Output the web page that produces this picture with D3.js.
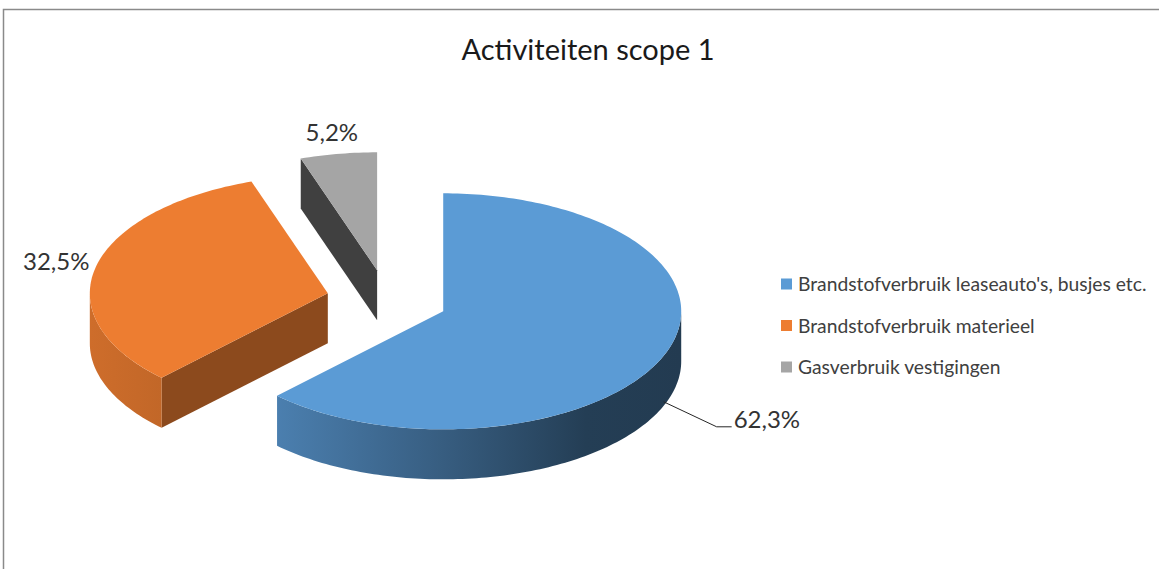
<!DOCTYPE html>
<html>
<head>
<meta charset="utf-8">
<style>
  body { margin: 0; background: #ffffff; }
  svg { display: block; font-family: Lato, "Open Sans", sans-serif; }
  .title { font-size: 29px; fill: #1a1a1a; }
  .label { font-size: 24px; fill: #333333; }
  .legend text { font-size: 19.3px; fill: #404040; }
</style>
</head>
<body>
<svg id="chart" width="1159" height="569"></svg>
<script src="https://cdn.jsdelivr.net/npm/d3@7"></script>
<script>
  // data
  var title = "Activiteiten scope 1";
  var categories = ["Brandstofverbruik leaseauto's, busjes etc.", "Brandstofverbruik materieel", "Gasverbruik vestigingen"];
  var values = [62.3, 32.5, 5.2];
  var colors = ["#5b9bd5", "#ed7d31", "#a5a5a5"];

  // 3d pie geometry
  var cx = 387, cy = 300, rx = 238, ry = 118, depth = 50, explode = 0.255;
  var labelRadius = 1.17;
  var leader = {index: 0, down: 0.92, dx: 53, dy: 25, run: 15};

  var nl = d3.formatLocale({decimal: ",", thousands: ".", grouping: [3], currency: ["", "€"]});
  var pct = nl.format(".1f");

  var svg = d3.select("#chart");
  var defs = svg.append("defs");

  svg.append("rect").attr("width", 1159).attr("height", 569).attr("fill", "#ffffff");
  // chart area border (only top and left visible)
  svg.append("path")
      .attr("d", "M3.5,569V9.5H1159")
      .attr("fill", "none")
      .attr("stroke", "#8a8a8a")
      .attr("stroke-width", 1.5);

  svg.append("text")
      .attr("class", "title")
      .attr("x", 588)
      .attr("y", 60)
      .attr("text-anchor", "middle")
      .text(title);

  var slices = d3.pie().sort(null).value(function(d){ return d.value; })(
    values.map(function(v, i){ return {name: categories[i], value: v, color: colors[i]}; })
  );

  slices.forEach(function(d){
    d.mid = (d.startAngle + d.endAngle) / 2;
    d.ox = cx + explode * rx * Math.sin(d.mid);
    d.oy = cy - explode * ry * Math.cos(d.mid);
  });

  function pt(d, a, dz) {
    return [d.ox + rx * Math.sin(a), d.oy - ry * Math.cos(a) + (dz || 0)];
  }
  function arcPts(d, a0, a1, dz) {
    var n = Math.max(2, Math.ceil(Math.abs(a1 - a0) / 0.02));
    return d3.range(n + 1).map(function(k){ return pt(d, a0 + (a1 - a0) * k / n, dz); });
  }
  function scale(c, f) {
    var r = d3.rgb(c);
    return d3.rgb(r.r * f, r.g * f, r.b * f).formatHex();
  }
  var line = d3.line();

  // lighting of the curved side, by horizontal position on the ellipse
  var sideShade = [[-1, 0.87], [-0.7, 0.82], [0, 0.6], [0.6, 0.4], [1, 0.38]];

  var order = slices.slice().sort(function(a, b){ return a.oy - b.oy; });

  order.forEach(function(d){
    var g = svg.append("g").attr("class", "slice");
    var col = d.data.color;

    // radial cut faces
    [[d.startAngle, d.startAngle - Math.PI / 2], [d.endAngle, d.endAngle + Math.PI / 2]].forEach(function(f){
      if (Math.cos(f[1]) < -1e-6) {
        var p = pt(d, f[0]);
        var shade = Math.sin(f[1]) > 0 ? 0.59 : 0.39;
        g.append("path")
            .attr("d", line([[d.ox, d.oy], p, [p[0], p[1] + depth], [d.ox, d.oy + depth]]) + "Z")
            .attr("fill", scale(col, shade));
      }
    });

    // curved outer side (front half only)
    var lo = Math.max(d.startAngle, Math.PI / 2), hi = Math.min(d.endAngle, 3 * Math.PI / 2);
    if (hi > lo) {
      var gid = "side" + d.index;
      var grad = defs.append("linearGradient")
          .attr("id", gid)
          .attr("gradientUnits", "userSpaceOnUse")
          .attr("x1", d.ox - rx).attr("x2", d.ox + rx)
          .attr("y1", 0).attr("y2", 0);
      grad.selectAll("stop").data(sideShade).enter().append("stop")
          .attr("offset", function(s){ return ((s[0] + 1) / 2 * 100) + "%"; })
          .attr("stop-color", function(s){ return scale(col, s[1]); });
      var pts = arcPts(d, lo, hi, 0).concat(arcPts(d, hi, lo, depth));
      g.append("path")
          .attr("d", line(pts) + "Z")
          .attr("fill", "url(#" + gid + ")");
    }

    // top face
    g.append("path")
        .attr("d", line([[d.ox, d.oy]].concat(arcPts(d, d.startAngle, d.endAngle, 0))) + "Z")
        .attr("fill", col);
  });

  // data labels
  slices.forEach(function(d){
    var txt = pct(d.value) + "%";
    if (d.index === leader.index) {
      var s = pt(d, d.mid, depth * leader.down);
      var e = [s[0] + leader.dx, s[1] + leader.dy];
      svg.append("path")
          .attr("d", line([s, e, [e[0] + leader.run, e[1]]]))
          .attr("fill", "none")
          .attr("stroke", "#262626")
          .attr("stroke-width", 1);
      svg.append("text")
          .attr("class", "label")
          .attr("x", e[0] + leader.run + 2)
          .attr("y", e[1] + 1)
          .text(txt);
    } else {
      var p = [d.ox + labelRadius * rx * Math.sin(d.mid), d.oy - labelRadius * ry * Math.cos(d.mid)];
      svg.append("text")
          .attr("class", "label")
          .attr("x", p[0])
          .attr("y", p[1] + 7)
          .attr("text-anchor", "middle")
          .text(txt);
    }
  });

  // legend
  var ly = d3.scalePoint().domain(categories).range([284, 367]);
  var legend = svg.append("g").attr("class", "legend");
  var item = legend.selectAll("g").data(slices).enter().append("g")
      .attr("transform", function(d){ return "translate(781," + ly(d.data.name) + ")"; });
  item.append("rect")
      .attr("y", -5.5)
      .attr("width", 11)
      .attr("height", 11)
      .attr("fill", function(d){ return d.data.color; });
  item.append("text")
      .attr("x", 17)
      .attr("y", 7)
      .text(function(d){ return d.data.name; });
</script>
</body>
</html>
